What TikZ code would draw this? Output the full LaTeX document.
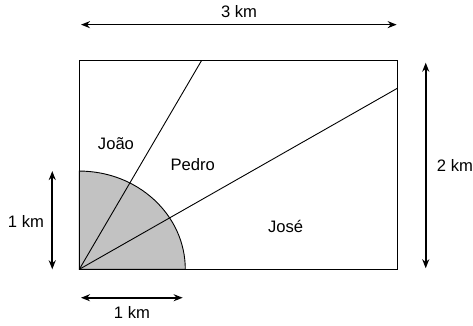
\documentclass[tikz,border=0pt]{standalone}
\usepackage{fontspec}
\setmainfont{Liberation Sans}
\usetikzlibrary{arrows.meta}
\definecolor{areagray}{gray}{0.76}
\begin{document}
\begin{tikzpicture}[x=106pt,y=104.5pt,
    dim/.style={{Stealth[length=9pt,width=7pt]}-{Stealth[length=9pt,width=7pt]}, line width=1.6pt},
    edge/.style={line width=0.9pt},
    lbl/.style={font=\fontsize{16.6}{19}\selectfont}]
    \useasboundingbox (-0.748,-0.533) rectangle (3.714,2.577);
    % corners of the field
    \coordinate (O) at (0,0);
    \coordinate (E) at (1,0);
    \coordinate (B) at (3,2);
    \coordinate (P) at (1.1547,2);
    \coordinate (Q) at (3,1.732);
    \filldraw[fill=areagray, edge] (O) -- (E) arc[start angle=0, end angle=90, x radius=1, y radius=0.94] -- cycle;
    \draw[edge] (O) rectangle (B);
    \draw[edge] (O) -- (P);
    \draw[edge] (O) -- (Q);
    % names
    \node[lbl] (joao) at (0.346,1.206) {João};
    \node[lbl] (pedro) at (1.07,0.998) {Pedro};
    \node[lbl] (jose) at (1.947,0.414) {José};
    % dimensions
    \coordinate (t1) at (0.016,2.341); \coordinate (t2) at (2.994,2.341);
    \coordinate (r1) at (3.268,0.01); \coordinate (r2) at (3.268,1.977);
    \coordinate (l1) at (-0.255,0); \coordinate (l2) at (-0.255,0.94);
    \coordinate (b1) at (0.016,-0.272); \coordinate (b2) at (0.975,-0.272);
    \draw[dim] (t1) -- (t2);
    \draw[dim] (r1) -- (r2);
    \draw[dim] (l1) -- (l2);
    \draw[dim] (b1) -- (b2);
    \node[lbl] (topkm) at (1.507,2.465) {3 km};
    \node[lbl] (rightkm) at (3.544,0.989) {2 km};
    \node[lbl] (leftkm) at (-0.503,0.456) {1 km};
    \node[lbl] (botkm) at (0.497,-0.415) {1 km};
\end{tikzpicture}
\end{document}
